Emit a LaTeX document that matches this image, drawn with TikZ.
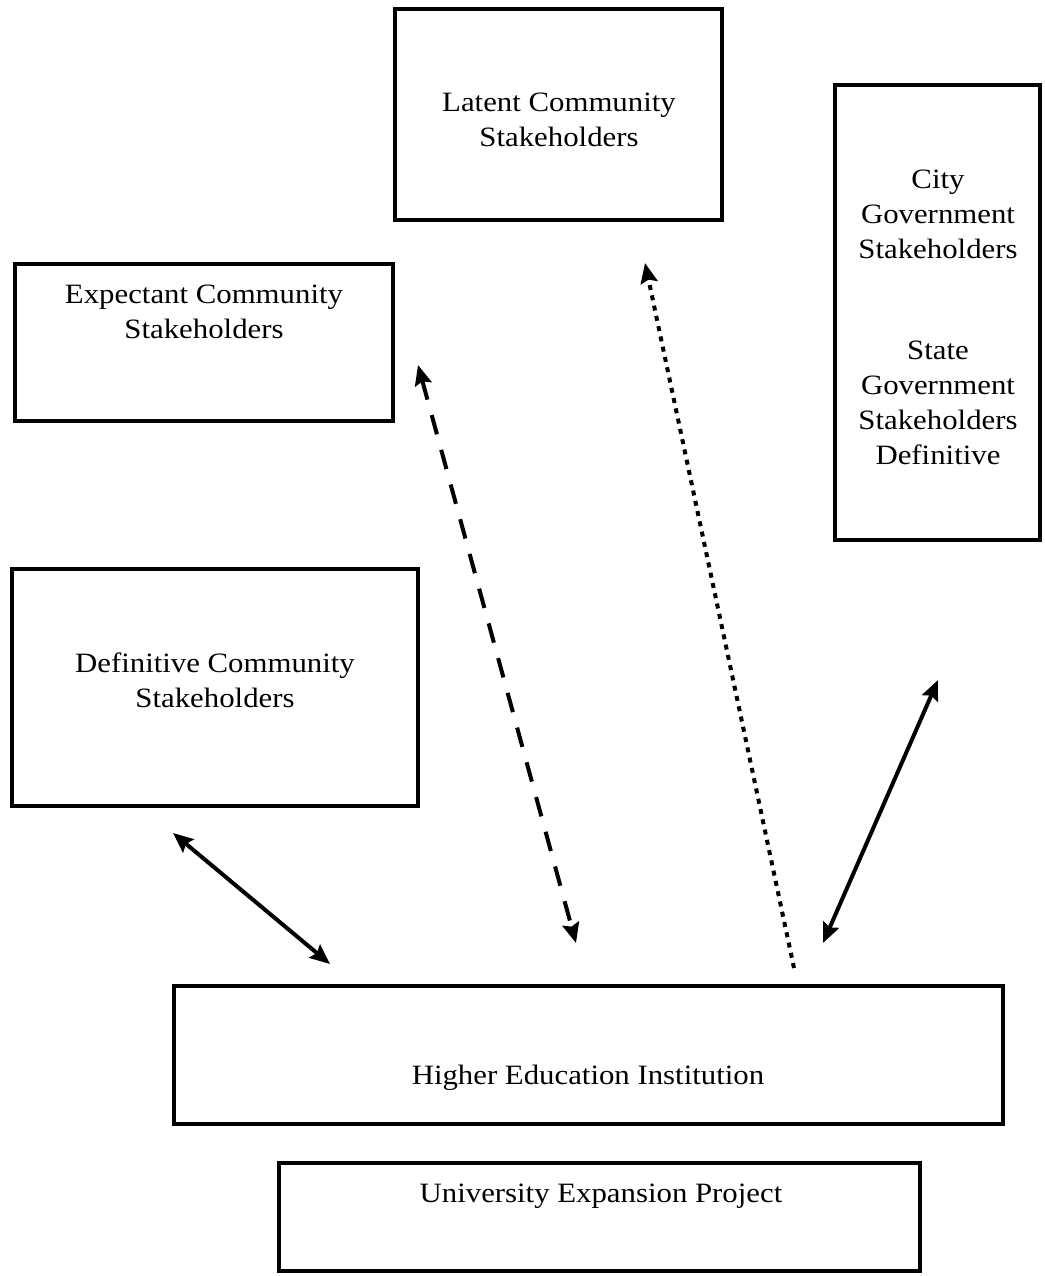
\documentclass[tikz,border=0pt]{standalone}
\usepackage{fontspec}
\setmainfont[FakeStretch=1.1]{Liberation Serif}
\usetikzlibrary{arrows.meta}
\begin{document}
\begin{tikzpicture}[x=1pt,y=-1pt,
  box/.style={draw=black, line width=4pt, rectangle, inner sep=0pt},
  lbl/.style={align=center, font=\fontsize{28}{35}\selectfont, inner sep=0pt},
  tip/.style={-{Stealth[length=20pt,width=17pt,inset=3pt]}},
  tipboth/.style={{Stealth[length=20pt,width=17pt,inset=3pt]}-{Stealth[length=20pt,width=17pt,inset=3pt]}},
  link/.style={line width=4pt}
]
\useasboundingbox (0,0) rectangle (1044,1276);
% boxes
\node[box, minimum width=327pt, minimum height=211pt] (latent) at (558.5,114.5) {};
\node[box, minimum width=205pt, minimum height=455pt] (gov) at (937.5,312.5) {};
\node[box, minimum width=378pt, minimum height=157pt] (expect) at (204,342.5) {};
\node[box, minimum width=406pt, minimum height=237pt] (defin) at (215,687.5) {};
\node[box, minimum width=829pt, minimum height=138pt] (hei) at (588.5,1055) {};
\node[box, minimum width=641pt, minimum height=108pt] (uep) at (599.5,1217) {};
% labels
\node[lbl] (latentT) at (559,120) {Latent Community\\Stakeholders};
\node[lbl] (govT1) at (938,214) {City\\Government\\Stakeholders};
\node[lbl] (govT2) at (938,403) {State\\Government\\Stakeholders\\Definitive};
\node[lbl] (expectT) at (204,312) {Expectant Community\\Stakeholders};
\node[lbl] (definT) at (215,680) {Definitive Community\\Stakeholders};
\node[lbl] (heiT) at (588,1078) {Higher Education Institution};
\node[lbl] (uepT) at (601,1196) {University Expansion Project};
% connector ends
\coordinate (a1) at (173,833);
\coordinate (a2) at (330,964);
\coordinate (b1) at (418,365);
\coordinate (b2) at (576,943);
\coordinate (c1) at (794,968);
\coordinate (c2) at (645,263);
\coordinate (d1) at (938,680);
\coordinate (d2) at (823,943);
% connectors
\draw[link, tipboth] (a1) -- (a2);
\draw[link, tipboth, dash pattern=on 20pt off 16pt] (b1) -- (b2);
\draw[link, tip, dash pattern=on 5pt off 5.5pt] (c1) -- (c2);
\draw[link, tipboth] (d1) -- (d2);
\end{tikzpicture}
\end{document}
